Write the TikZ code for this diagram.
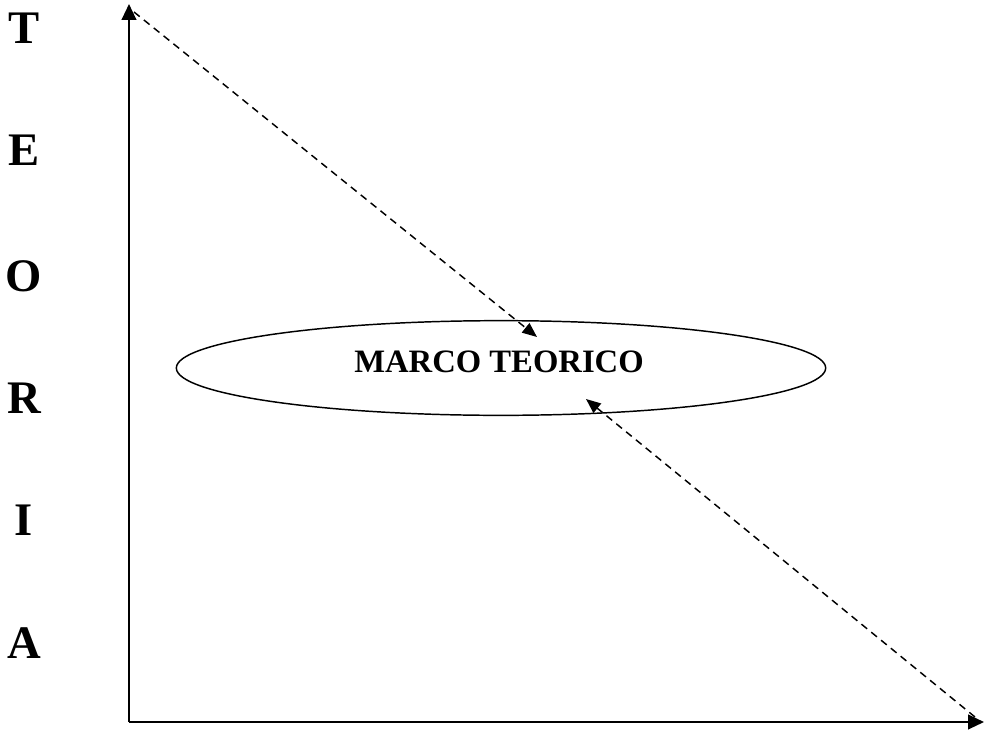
\documentclass[tikz,border=0pt]{standalone}
\usepackage{fontspec}
\setmainfont{Liberation Serif}
\usetikzlibrary{arrows.meta,shapes.geometric}
\begin{document}
\begin{tikzpicture}[x=0.75pt,y=-0.75pt,
  axis/.style={line width=1.6pt,-{Triangle[length=12pt,width=11pt]}},
  dashline/.style={line width=1.1pt,dash pattern=on 5.5pt off 4pt,-{Triangle[length=11pt,width=9pt]}},
  letter/.style={font=\bfseries\fontsize{35}{40}\selectfont,inner sep=0pt},
  ell/.style={ellipse,draw,line width=1.1pt,minimum width=487pt,minimum height=71pt,inner sep=0pt}]
\useasboundingbox (0,0) rectangle (984,731);
\coordinate (o) at (129,722);
\coordinate (ytop) at (129,4);
\coordinate (xend) at (984,722);
\draw[axis] (o) -- (ytop);
\draw[axis] (o) -- (xend);
\node[ell] (mt) at (501,368) {};
\node[font=\bfseries\fontsize{24.5}{28}\selectfont,anchor=base] (lbl) at (499,372) {MARCO TEORICO};
\coordinate (d1) at (134,12);
\coordinate (a1) at (537,337);
\coordinate (d2) at (975,717);
\coordinate (a2) at (586,399);
\draw[dashline] (d1) -- (a1);
\draw[dashline] (d2) -- (a2);
\node[letter,anchor=base] (t) at (24,44) {T};
\node[letter,anchor=base] (e) at (24,166) {E};
\node[letter,anchor=base] (o1) at (24,291) {O};
\node[letter,anchor=base] (r) at (24,413) {R};
\node[letter,anchor=base] (i) at (24,535) {I};
\node[letter,anchor=base] (a) at (24,658) {A};
\end{tikzpicture}
\end{document}
